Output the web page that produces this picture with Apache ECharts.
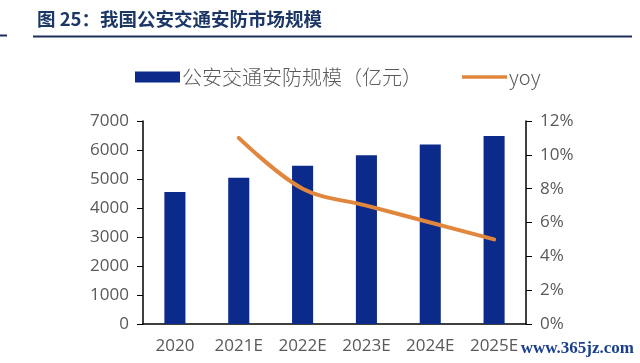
<!DOCTYPE html>
<html><head><meta charset="utf-8">
<script src="https://cdn.jsdelivr.net/npm/echarts@6/dist/echarts.min.js"></script>
<style>html,body{margin:0;padding:0;background:#fff}#c{width:640px;height:363px}</style>
</head><body><div id="c"></div>
<script>
const categories = ['2020','2021E','2022E','2023E','2024E','2025E'];
const scaleValues = [4550, 5040, 5460, 5820, 6190, 6480];
const yoyValues = [null, 11.0, 8.0, 7.0, 6.0, 5.0];
const leftTicks = [0,1000,2000,3000,4000,5000,6000,7000];
const rightTicks = [0,2,4,6,8,10,12];
const barName = '公安交通安防规模（亿元）';
const lineName = 'yoy';
const titleText = '图 25：我国公安交通安防市场规模';

const chart = echarts.init(document.getElementById('c'), null, {renderer:'canvas'});
const labelFont = {fontFamily:'Open Sans', fontSize:17, color:'#595959'};
chart.setOption({
  animation:false,
  backgroundColor:'#fff',
  graphic:[
    {type:'text', left:37, top:10, style:{text:titleText, font:'bold 18.5px "Noto Sans CJK SC"', fill:'#1c3766'}},
    {type:'line', shape:{x1:33,y1:36.5,x2:632,y2:36.5}, style:{stroke:'#1c2f5a', lineWidth:2}},
    {type:'line', shape:{x1:0,y1:35.5,x2:7,y2:35.5}, style:{stroke:'#1c2f5a', lineWidth:2}},
    {type:'text', right:6, top:340, style:{text:'www.365jz.com', font:'bold 17px "Liberation Serif"', fill:'#1a3f8f'}}
  ],
  legend:{
    top:62, left:130, itemGap:40, itemWidth:45, itemHeight:11,
    textStyle:{fontFamily:'Noto Sans CJK SC', fontSize:20, fontWeight:300, color:'#595959', padding:[0,0,0,-3]},
    data:[{name:barName, icon:'rect'},{name:lineName, icon:'path://M0,4 L50,4 L50,8 L0,8 Z', itemStyle:{color:'#E0873D'}}]
  },
  grid:{left:143, right:114, top:121, bottom:39, containLabel:false},
  xAxis:{
    type:'category', data:categories,
    axisLine:{lineStyle:{color:'#000', width:1.5}},
    axisTick:{show:false},
    axisLabel:Object.assign({margin:14}, labelFont)
  },
  yAxis:[
    {type:'value', min:0, max:7000, interval:1000,
     axisLine:{show:true, lineStyle:{color:'#000', width:1.5}},
     axisTick:{show:true, length:6, lineStyle:{color:'#000'}},
     splitLine:{show:false},
     axisLabel:Object.assign({margin:14, formatter:function(v){return String(v);}}, labelFont)},
    {type:'value', min:0, max:12, interval:2, position:'right',
     axisLine:{show:true, lineStyle:{color:'#000', width:1.5}},
     axisTick:{show:true, length:6, lineStyle:{color:'#000'}},
     splitLine:{show:false},
     axisLabel:Object.assign({margin:14, formatter:'{value}%'}, labelFont)}
  ],
  series:[
    {name:barName, type:'bar', data:scaleValues, barWidth:'33%', itemStyle:{color:'#0c2a8a'}},
    {name:lineName, type:'line', yAxisIndex:1, data:yoyValues, smooth:0.35, symbol:'none',
     lineStyle:{color:'#E0873D', width:4, cap:'round'}, itemStyle:{color:'#E0873D'}}
  ]
});
</script></body></html>
